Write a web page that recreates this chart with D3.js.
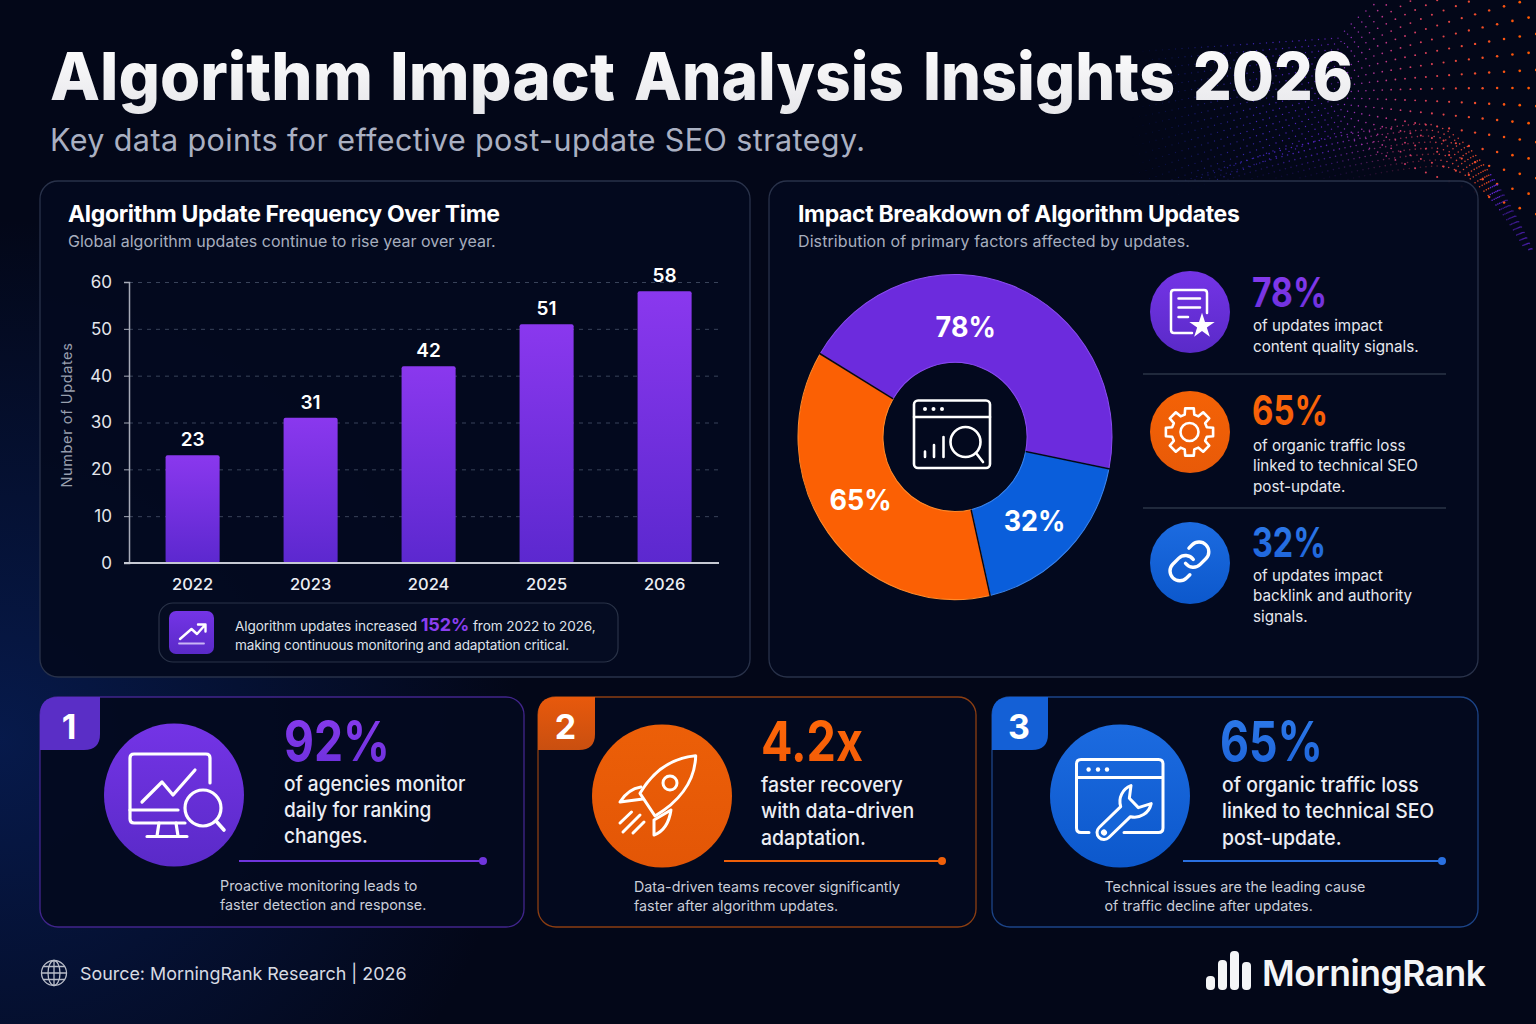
<!DOCTYPE html>
<html>
<head>
<meta charset="utf-8">
<title>Algorithm Impact Analysis Insights 2026</title>
<script src="https://cdn.jsdelivr.net/npm/d3@7"></script>
<style>
  html, body { margin: 0; padding: 0; background: #030718; }
  svg { display: block; }
  text { font-family: Inter, "Noto Sans", sans-serif; }
</style>
</head>
<body>
<script>
// chart values
var years = ["2022", "2023", "2024", "2025", "2026"];
var updateCounts = [23, 31, 42, 51, 58];
var yTicks = [0, 10, 20, 30, 40, 50, 60];

var sliceNames = ["content", "links", "technical"];
var sliceValues = [78, 32, 65];

var statValues = ["78%", "65%", "32%"];
var statLines = [
  ["of updates impact", "content quality signals."],
  ["of organic traffic loss", "linked to technical SEO", "post-update."],
  ["of updates impact", "backlink and authority", "signals."]
];

var cardValues = ["92%", "4.2x", "65%"];
var cardLines = [
  ["of agencies monitor", "daily for ranking", "changes."],
  ["faster recovery", "with data-driven", "adaptation."],
  ["of organic traffic loss", "linked to technical SEO", "post-update."]
];
var cardNotes = [
  ["Proactive monitoring leads to", "faster detection and response."],
  ["Data-driven teams recover significantly", "faster after algorithm updates."],
  ["Technical issues are the leading cause", "of traffic decline after updates."]
];

var W = 1536, H = 1024;

var svg = d3.select("body").append("svg").attr("width", W).attr("height", H).attr("viewBox", "0 0 " + W + " " + H);
var defs = svg.append("defs");

function gradient(id, stops) {
  var g = defs.append("linearGradient").attr("id", id).attr("x1", 0).attr("y1", 0).attr("x2", 0).attr("y2", 1);
  stops.forEach(function(s, i) {
    g.append("stop").attr("offset", i / (stops.length - 1)).attr("stop-color", s);
  });
}
gradient("barFill", ["#8a38ee", "#5c28cf"]);
gradient("titleFill", ["#ffffff", "#e6e6ea"]);
gradient("circPurple", ["#7434e6", "#5a2ac8"]);
gradient("circOrange", ["#f46206", "#e85a08"]);
gradient("circOrangeCard", ["#ec5f08", "#e35606"]);
gradient("circBlue", ["#1c6be0", "#0c58cc"]);
gradient("numPurple", ["#8a3cf0", "#6a2fda"]);
gradient("numOrange", ["#ff6a0a", "#f25a06"]);
gradient("numBlue", ["#2f7cec", "#1c62d8"]);
gradient("badgeOrange", ["#e8590c", "#c94f10"]);

var glow = defs.append("radialGradient").attr("id", "bgGlow")
  .attr("gradientUnits", "userSpaceOnUse").attr("cx", 0).attr("cy", 740).attr("r", 520);
glow.append("stop").attr("offset", 0).attr("stop-color", "#08205c").attr("stop-opacity", 0.75);
glow.append("stop").attr("offset", 1).attr("stop-color", "#08205c").attr("stop-opacity", 0);

svg.append("rect").attr("width", W).attr("height", H).attr("fill", "#030718");
svg.append("rect").attr("width", W).attr("height", H).attr("fill", "url(#bgGlow)");

// dotted wave, top right corner (decoration only)
var dotColor = d3.scaleLinear().domain([1150, 1320, 1400, 1490]).range(["#2438d8", "#6a2ae8", "#d03a70", "#f5501e"]);
var waveDots = [];
function addDot(x, y, a, r, fade) {
  if (y < 0 || y > 250 || a <= 0) return;
  waveDots.push({x: x, y: y, a: a, r: r, fade: fade});
}
// upper fan, opens towards the right edge
d3.range(-12, 6).forEach(function(s) {
  var x = 1130 + (s & 1) * 3;
  while (x < 1540) {
    var right = Math.max(0, x - 1340) / 196;
    var left = Math.max(0, 1340 - x) / 210;
    var spread = 5.5 + 12.5 * Math.pow(right, 0.8) + 4 * left;
    var y = 104 + 20 * right + 62 * left + s * spread;
    var a = x < 1340 ? Math.min(1, (x - 1130) / 130) * 0.8 : 1;
    addDot(x, y, a, 0.7 + 0.7 * right, 0);
    x += 6.5 + 11 * right;
  }
});
// lower arches, rise from the left then drop steeply
d3.range(0, 8).forEach(function(j) {
  var xp = 1425 + j * 2;
  var yp = 124 + j * 6;
  var x = 1180 + j * 24;
  while (x < 1540) {
    var y, a, slope;
    if (x < xp) {
      y = yp + 62 * Math.pow((xp - x) / 255, 1.5);
      a = Math.min(1, (x - 1160 - j * 24) / 110) * (0.8 - j * 0.05);
      slope = 0.4;
    } else {
      y = yp + 0.022 * Math.pow(x - xp, 1.85);
      a = x > 1500 ? 0.55 : 0.9;
      slope = 0.0407 * Math.pow(x - xp, 0.85);
    }
    addDot(x, y, a, 0.8, x > 1490 ? 1 : 0);
    x += 6 / Math.sqrt(1 + slope * slope);
  }
});
svg.append("g").selectAll("circle").data(waveDots).enter().append("circle")
  .attr("cx", function(d) { return d.x; })
  .attr("cy", function(d) { return d.y; })
  .attr("r", function(d) { return d.r; })
  .attr("fill", function(d) { return d.fade ? "#6a2ae8" : dotColor(d.x); })
  .attr("opacity", function(d) { return d.a; });

function label(parent, x, y, str, size, weight, fill, anchor, spacing) {
  return parent.append("text").attr("x", x).attr("y", y).text(str)
    .attr("font-size", size).attr("font-weight", weight).attr("fill", fill)
    .attr("text-anchor", anchor || "start")
    .attr("letter-spacing", spacing || 0);
}
// the reference lettering is a little narrower than Inter
function squeeze(sel, ratio) {
  sel.attr("textLength", sel.node().getComputedTextLength() * ratio).attr("lengthAdjust", "spacingAndGlyphs");
  return sel;
}
function fit(sel, width) {
  sel.attr("textLength", width).attr("lengthAdjust", "spacingAndGlyphs");
  return sel;
}
function lines(parent, x, ys, strs, size, weight, fill, ratio) {
  strs.forEach(function(s, i) {
    var t = label(parent, x, ys[i], s, size, weight, fill);
    if (ratio) squeeze(t, ratio);
  });
}
function panel(x, y, w, h, stroke) {
  return svg.append("rect").attr("x", x).attr("y", y).attr("width", w).attr("height", h)
    .attr("rx", 18).attr("fill", "#030a1f").attr("fill-opacity", 0.94)
    .attr("stroke", stroke).attr("stroke-width", 1.3);
}

// header, one text with each word placed and fitted on its own
var titleWords = ["Algorithm", "Impact", "Analysis", "Insights", "2026"];
var titleX = [50, 390, 634, 923, 1193];
var titleW = [323, 225, 270, 252, 160];
var title = svg.append("text").attr("y", 100).attr("font-size", 66.5).attr("font-weight", 800).attr("fill", "url(#titleFill)");
titleWords.forEach(function(w, i) {
  title.append("tspan").attr("x", titleX[i]).attr("textLength", titleW[i]).attr("lengthAdjust", "spacingAndGlyphs").text(w);
  if (i < titleWords.length - 1) title.append("tspan").text(" ");
});
label(svg, 50, 151, "Key data points for effective post-update SEO strategy.", 30.5, 400, "#aab0c2", "start", 0.4);

// bar chart panel
panel(40, 181, 710, 496, "#29324a");
label(svg, 68, 222, "Algorithm Update Frequency Over Time", 23, 700, "#ffffff", "start", -0.35);
label(svg, 68, 247, "Global algorithm updates continue to rise year over year.", 16, 400, "#a7aebe");

var x = d3.scaleBand().domain(years).range([133.6, 723.6]).paddingInner(0.542).paddingOuter(0.271);
var y = d3.scaleLinear().domain([0, 60]).range([563, 282]);

var grid = svg.append("g").attr("transform", "translate(129,0)")
  .call(d3.axisLeft(y).tickValues(yTicks.slice(1)).tickSize(-590).tickFormat(""));
grid.select(".domain").remove();
grid.selectAll("line").attr("stroke", "#39435a").attr("stroke-dasharray", "4 5").attr("stroke-width", 1);

var yAxis = svg.append("g").attr("transform", "translate(129,0)")
  .call(d3.axisLeft(y).tickValues(yTicks).tickSize(5).tickPadding(12));
yAxis.select(".domain").attr("stroke", "#a6abb8").attr("stroke-width", 1.5);
yAxis.selectAll("line").attr("stroke", "#a6abb8");
yAxis.selectAll("text").attr("font-size", 17).attr("fill", "#e4e6ec").attr("font-family", "Inter");

svg.selectAll(".bar").data(updateCounts).enter().append("rect").attr("class", "bar")
  .attr("x", function(d, i) { return x(years[i]); })
  .attr("y", function(d) { return y(d); })
  .attr("width", x.bandwidth())
  .attr("height", function(d) { return y(0) - y(d); })
  .attr("rx", 2)
  .attr("fill", "url(#barFill)");

svg.selectAll(".barValue").data(updateCounts).enter().append("text").attr("class", "barValue")
  .attr("x", function(d, i) { return x(years[i]) + x.bandwidth() / 2; })
  .attr("y", function(d) { return y(d) - 9; })
  .attr("text-anchor", "middle")
  .attr("font-size", 19).attr("font-weight", 600).attr("fill", "#ffffff")
  .text(function(d) { return d; });

var xAxis = svg.append("g").attr("transform", "translate(0," + y(0) + ")")
  .call(d3.axisBottom(x).tickSize(0).tickPadding(15));
xAxis.select(".domain").remove();
xAxis.selectAll("text").attr("font-size", 16.5).attr("font-weight", 500).attr("fill", "#eceef3").attr("font-family", "Inter");
svg.append("line").attr("x1", 124).attr("x2", 719).attr("y1", y(0)).attr("y2", y(0))
  .attr("stroke", "#c6c9d3").attr("stroke-width", 2);

label(svg, 0, 0, "Number of Updates", 14.5, 400, "#989fae", "middle", 0.6)
  .attr("transform", "translate(72,415) rotate(-90)");

// callout under the bars
svg.append("rect").attr("x", 159).attr("y", 603).attr("width", 459).attr("height", 59).attr("rx", 14)
  .attr("fill", "#050c22").attr("stroke", "#2a3348").attr("stroke-width", 1.2);
svg.append("rect").attr("x", 169).attr("y", 611).attr("width", 45).attr("height", 43).attr("rx", 7).attr("fill", "url(#circPurple)");
var note = label(svg, 235, 631, "Algorithm updates increased ", 13.6, 400, "#dfe2ea", "start", -0.1);
note.append("tspan").text("152%").attr("font-size", 18).attr("font-weight", 700).attr("fill", "#8b3ff0");
note.append("tspan").text(" from 2022 to 2026,");
label(svg, 235, 650, "making continuous monitoring and adaptation critical.", 13.6, 400, "#dfe2ea", "start", -0.2);

var icon = svg.append("g").attr("fill", "none").attr("stroke", "#ffffff").attr("stroke-width", 2.4)
  .attr("stroke-linecap", "round").attr("stroke-linejoin", "round");
icon.append("path").attr("d", "M180,639L191.5,629L197,634L205,625M198,624.5H205.5V631.5");
icon.append("path").attr("d", "M179,643.5H204").attr("stroke", "#c9b5f5").attr("stroke-width", 1.8);

// donut panel
panel(769, 181, 709, 496, "#29324a");
label(svg, 798, 222, "Impact Breakdown of Algorithm Updates", 23, 700, "#ffffff", "start", -0.35);
label(svg, 798, 247, "Distribution of primary factors affected by updates.", 16, 400, "#a7aebe", "start", 0.1);

var sliceColor = d3.scaleOrdinal().domain(sliceNames).range(["#6c2bdd", "#0a5edb", "#fb6004"]);
var sliceEdge = d3.scaleOrdinal().domain(sliceNames).range(["#8a4cf0", "#3b86f0", "#ff8a2a"]);
var pie = d3.pie().sort(null).startAngle(-59.2 * Math.PI / 180).endAngle(300.8 * Math.PI / 180);
var arc = d3.arc().innerRadius(72).outerRadius(157);
var donut = svg.append("g").attr("transform", "translate(955,437) scale(1,1.035)");
var slices = pie(sliceValues);
donut.selectAll("path").data(slices).enter().append("path")
  .attr("d", arc)
  .attr("fill", function(d, i) { return sliceColor(sliceNames[i]); })
  .attr("stroke", function(d, i) { return sliceEdge(sliceNames[i]); })
  .attr("stroke-width", 1);
donut.selectAll("line").data(slices).enter().append("line")
  .attr("x1", function(d) { return 72 * Math.sin(d.startAngle); })
  .attr("y1", function(d) { return -72 * Math.cos(d.startAngle); })
  .attr("x2", function(d) { return 158 * Math.sin(d.startAngle); })
  .attr("y2", function(d) { return -158 * Math.cos(d.startAngle); })
  .attr("stroke", "#040818").attr("stroke-width", 1.5);

// slice labels sit off the centroids, as in the picture
var sliceNudge = [[-27, 2], [-5, 4], [-4, -10]];
var sliceSpot = pie.startAngle(-61 * Math.PI / 180).endAngle(299 * Math.PI / 180)(sliceValues);
svg.selectAll(".sliceLabel").data(sliceSpot).enter().append("text").attr("class", "sliceLabel")
  .attr("x", function(d, i) { return 955 + arc.centroid(d)[0] + sliceNudge[i][0]; })
  .attr("y", function(d, i) { return 437 + arc.centroid(d)[1] * 1.035 + sliceNudge[i][1] + 10; })
  .attr("text-anchor", "middle")
  .attr("font-size", 29).attr("font-weight", 700).attr("fill", "#ffffff")
  .text(function(d) { return d.value + "%"; })
  .each(function() { squeeze(d3.select(this), 0.93); });

function stroked(parent, w) {
  return parent.append("g").attr("fill", "none").attr("stroke", "#ffffff").attr("stroke-width", w)
    .attr("stroke-linecap", "round").attr("stroke-linejoin", "round");
}

// donut centre icon
var centre = stroked(svg, 2.6);
centre.append("rect").attr("x", 914).attr("y", 400.5).attr("width", 76).attr("height", 67.5).attr("rx", 4);
centre.append("path").attr("d", "M914,417H990M925,457V451.5M934,457V445M943.5,457V437M976,453L983,462");
centre.append("circle").attr("cx", 965.5).attr("cy", 442).attr("r", 15);
[925, 933.5, 942].forEach(function(cx) {
  svg.append("circle").attr("cx", cx).attr("cy", 409).attr("r", 2).attr("fill", "#fff");
});

// stat list to the right of the donut
var statFill = ["url(#circPurple)", "url(#circOrange)", "url(#circBlue)"];
var numFill = ["url(#numPurple)", "url(#numOrange)", "url(#numBlue)"];
var statCy = [312, 432, 563];
var statBase = [307, 425, 557];
var statRows = [[331, 352], [451, 471, 492], [581, 601, 622]];
var statWidth = [75, 76, 74];
statValues.forEach(function(v, i) {
  svg.append("ellipse").attr("cx", 1190).attr("cy", statCy[i]).attr("rx", 40).attr("ry", 41).attr("fill", statFill[i]);
  fit(label(svg, 1252, statBase[i], v, 41, 700, numFill[i]), statWidth[i]);
  lines(svg, 1253, statRows[i], statLines[i], 16, 400, "#e6e8ef", 0.95);
});
[374, 508].forEach(function(yy) {
  svg.append("line").attr("x1", 1143).attr("x2", 1446).attr("y1", yy).attr("y2", yy).attr("stroke", "#2b3447").attr("stroke-width", 1.3);
});

// document with star
var doc = stroked(svg, 2.5);
doc.append("path").attr("d", "M1207,313V293Q1207,290 1204,290H1174Q1171,290 1171,293V330Q1171,333 1174,333H1192");
doc.append("path").attr("d", "M1178.5,298.5H1200M1178.5,307.5H1200M1178.5,317H1188");
var star = d3.symbol().type(d3.symbolStar).size(200);
svg.append("path").attr("d", star()).attr("transform", "translate(1202,326)").attr("fill", "#fff");

// gear
var gearPts = [];
d3.range(8).forEach(function(k) {
  var a = k * Math.PI / 4 - Math.PI / 2;
  [[-0.27, 18], [-0.18, 24], [0.18, 24], [0.27, 18]].forEach(function(p) {
    gearPts.push([1189.5 + p[1] * Math.cos(a + p[0]), 432 + p[1] * Math.sin(a + p[0])]);
  });
});
var gear = stroked(svg, 2.6);
gear.append("path").attr("d", "M" + gearPts.join("L") + "Z");
gear.append("circle").attr("cx", 1189.5).attr("cy", 432).attr("r", 9);

// chain, two open links hooked into each other
var chain = stroked(svg, 1.75).attr("transform", "translate(1166,538) scale(1.95)");
chain.append("path").attr("d", "M10,13a5,5 0 0 0 7.54,.54l3,-3a5,5 0 0 0 -7.07,-7.07l-1.72,1.71");
chain.append("path").attr("d", "M14,11a5,5 0 0 0 -7.54,-.54l-3,3a5,5 0 0 0 7.07,7.07l1.71,-1.71");

// bottom cards
var cardBox = [[40, 484], [538, 438], [992, 486]];
var cardColor = ["#41258c", "#8c3e12", "#1c4488"];
var badgeWidth = [60, 57, 56];
var badgeFill = ["#5a2ec6", "url(#badgeOrange)", "#1460d6"];
var lineColor = ["#6f35dc", "#f0600a", "#2a70e0"];
var circCx = [174, 662, 1120];
var circCy = [795, 796, 796];
var textX = [284, 761, 1222];
var valueX = [284, 761, 1220];
var valueWidth = [106, 102, 103];
var textY = [[791, 817, 843], [792, 818, 845], [792, 818, 845]];
var textRatio = [0.93, 0.95, 0.945];
var rule = [[239, 483], [724, 942], [1183, 1442]];
var noteX = [220, 634, 1104.5];
var noteY = [[891, 910], [892, 911], [892, 911]];
var circFill = ["url(#circPurple)", "url(#circOrangeCard)", "url(#circBlue)"];

cardValues.forEach(function(v, i) {
  var bx = cardBox[i][0], bw = cardBox[i][1], tw = badgeWidth[i];
  panel(bx, 697, bw, 230, cardColor[i]);
  svg.append("path").attr("fill", badgeFill[i])
    .attr("d", "M" + bx + ",750V715Q" + bx + ",697 " + (bx + 18) + ",697H" + (bx + tw) + "V734Q" + (bx + tw) + ",750 " + (bx + tw - 16) + ",750Z");
  label(svg, bx + tw / 2 - 1, 739, String(i + 1), 34, 700, "#ffffff", "middle");
  svg.append("ellipse").attr("cx", circCx[i]).attr("cy", circCy[i]).attr("rx", 70).attr("ry", 71.5).attr("fill", circFill[i]);
  fit(label(svg, valueX[i], 761, v, 55, 700, numFill[i]), valueWidth[i]);
  lines(svg, textX[i], textY[i], cardLines[i], 20.5, 500, "#eceef4", textRatio[i]);
  svg.append("line").attr("x1", rule[i][0]).attr("x2", rule[i][1]).attr("y1", 861).attr("y2", 861).attr("stroke", lineColor[i]).attr("stroke-width", 2);
  svg.append("circle").attr("cx", rule[i][1]).attr("cy", 861).attr("r", 4).attr("fill", lineColor[i]);
  lines(svg, noteX[i], noteY[i], cardNotes[i], 14.3, 400, "#c9cdd8");
});

// monitor with magnifier
var mon = stroked(svg, 3.2);
mon.append("path").attr("d", "M210,783V758Q210,754 206,754H134Q130,754 130,758V819Q130,823 134,823H185");
mon.append("path").attr("d", "M130,810H178M159,823L157,836M176,823L178,836M147,836.5H187");
mon.append("path").attr("d", "M142,802L162,782L173,795L195,770");
mon.append("circle").attr("cx", 203).attr("cy", 808).attr("r", 18);
mon.append("path").attr("d", "M216,821L224,830").attr("stroke-width", 3.6);

// rocket
var rocket = stroked(svg, 3);
rocket.append("path").attr("d", "M695.7,755.7C670,758 652,773 640,793.3L655,816C677,803 695,783 695.7,755.7Z");
rocket.append("circle").attr("cx", 670).attr("cy", 783).attr("r", 7);
rocket.append("path").attr("d", "M641,787Q628,789 620,802L643,799M671,810L654,820V835Q668,830 671,810");
rocket.append("path").attr("d", "M620,823L631.5,812M623,832L640,815M633,833L644,822");

// window with wrench
var win = stroked(svg, 3);
win.append("path").attr("d", "M1089,832.5H1081Q1076.5,832.5 1076.5,828V764Q1076.5,759.5 1081,759.5H1158.5Q1163,759.5 1163,764V828Q1163,832.5 1158.5,832.5H1124M1076.5,777.5H1163");
[1088.6, 1098, 1107].forEach(function(cx) {
  svg.append("circle").attr("cx", cx).attr("cy", 769.5).attr("r", 2.2).attr("fill", "#fff");
});
var wrench = stroked(svg, 3).attr("transform", "translate(1104,832.5) rotate(-44)");
wrench.append("path").attr("d", "M0,-7L30,-7A17,17 0 0 1 52,-15L42,-7V6L54,12A17,17 0 0 1 30,7L0,7A7,7 0 0 1 0,-7Z").attr("fill", "#1565d8");
wrench.append("circle").attr("cx", 0).attr("cy", 0).attr("r", 1.5).attr("fill", "#fff");

// footer
label(svg, 80, 980, "Source: MorningRank Research | 2026", 17.9, 400, "#d8dbe3");
var globe = stroked(svg, 1.3).attr("stroke", "#b9bdc8");
globe.append("circle").attr("cx", 54).attr("cy", 973).attr("r", 12.5);
globe.append("ellipse").attr("cx", 54).attr("cy", 973).attr("rx", 6).attr("ry", 12.5);
globe.append("path").attr("d", "M54,960.5V985.5M41.5,973H66.5M43.5,966.5H64.5M43.5,979.5H64.5");

var logoBars = [[1206, 976], [1218, 960], [1230, 951], [1242, 962]];
svg.selectAll(".logoBar").data(logoBars).enter().append("rect").attr("class", "logoBar")
  .attr("x", function(d) { return d[0]; })
  .attr("y", function(d) { return d[1]; })
  .attr("width", 9)
  .attr("height", function(d) { return 990 - d[1]; })
  .attr("rx", 4).attr("fill", "#f4f5f7");
label(svg, 1262, 986, "MorningRank", 35.5, 600, "#f4f5f7", "start", -0.5);
</script>
</body>
</html>
